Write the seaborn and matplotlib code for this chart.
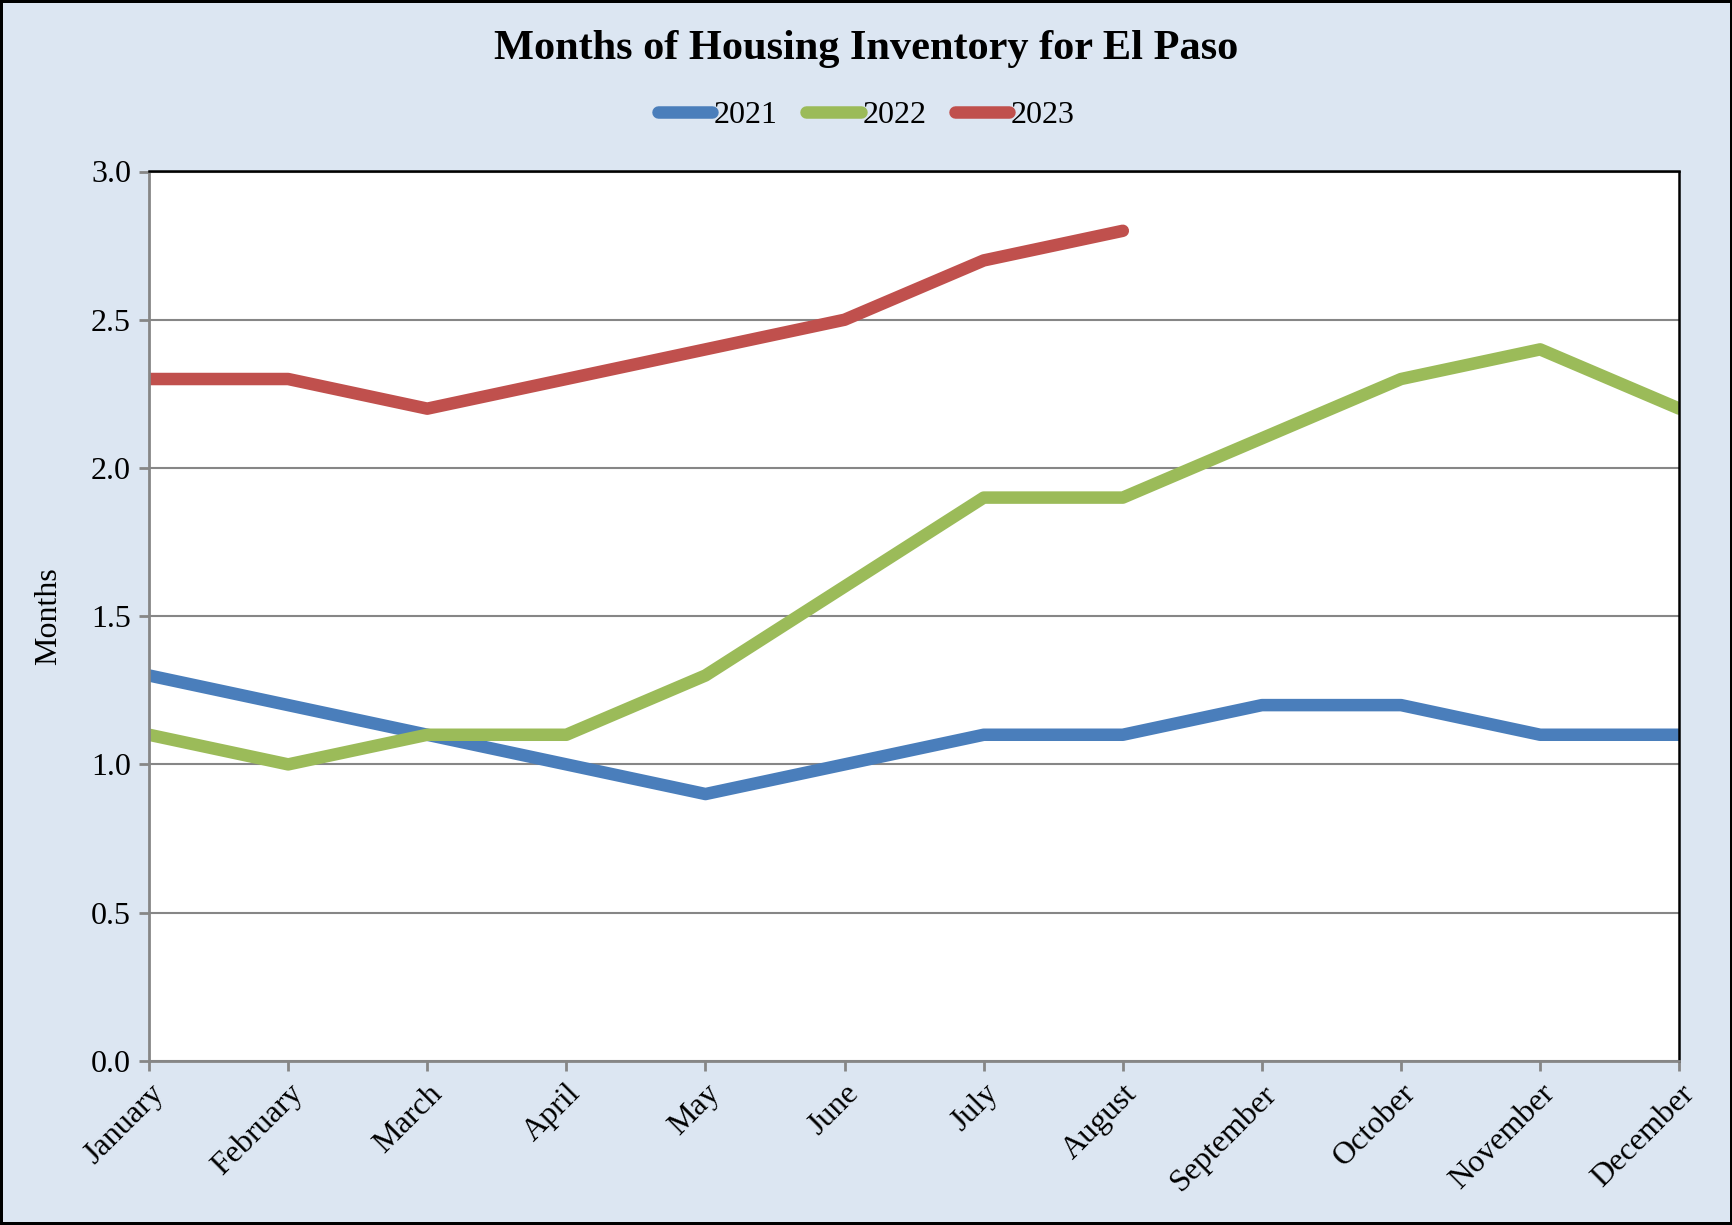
import numpy as np
import pandas as pd
import matplotlib
matplotlib.use("Agg")
import matplotlib.pyplot as plt
import seaborn as sns

months = ["January", "February", "March", "April", "May", "June", "July",
          "August", "September", "October", "November", "December"]
y2021 = [1.3, 1.2, 1.1, 1.0, 0.9, 1.0, 1.1, 1.1, 1.2, 1.2, 1.1, 1.1]
y2022 = [1.1, 1.0, 1.1, 1.1, 1.3, 1.6, 1.9, 1.9, 2.1, 2.3, 2.4, 2.2]
y2023 = [2.3, 2.3, 2.2, 2.3, 2.4, 2.5, 2.7, 2.8]
years = ["2021", "2022", "2023"]
colors = ["#4A7EBB", "#9BBB59", "#C0504D"]

rows = []
for yr, vals in zip(years, [y2021, y2022, y2023]):
    for i, v in enumerate(vals):
        rows.append({"month": i, "value": v, "year": yr})
df = pd.DataFrame(rows)

sns.set_style("white")
plt.rcParams["font.family"] = ["Liberation Serif", "DejaVu Serif"]
plt.rcParams["text.color"] = "black"
plt.rcParams["xtick.labelcolor"] = "black"
plt.rcParams["ytick.labelcolor"] = "black"
plt.rcParams["axes.labelcolor"] = "black"

fig = plt.figure(figsize=(17.33, 12.25), dpi=100)
fig.patch.set_facecolor("#DCE6F2")
fig.patch.set_edgecolor("black")
fig.patch.set_linewidth(3)
ax = fig.add_axes([0.086, 0.134, 0.883, 0.726])
ax.set_facecolor("white")

lw = 9
sns.lineplot(data=df, x="month", y="value", hue="year", palette=colors,
             linewidth=lw, ax=ax, legend=False, solid_capstyle="round")

ax.set_xlim(0, 11)
ax.set_ylim(0, 3.0)
ax.set_yticks(np.arange(0, 3.01, 0.5))
ax.set_yticklabels([f"{t:.1f}" for t in np.arange(0, 3.01, 0.5)], fontsize=23)
ax.set_xticks(range(12))
ax.set_xticklabels(months, rotation=45, ha="right", rotation_mode="anchor", fontsize=23)
ax.yaxis.grid(True, color="#868686", linewidth=1.5)
ax.set_axisbelow(True)
ax.set_xlabel("")
ax.set_ylabel("Months", fontsize=23, labelpad=20)

for s in ["left", "bottom"]:
    ax.spines[s].set_color("#868686")
    ax.spines[s].set_linewidth(2)
for s in ["top", "right"]:
    ax.spines[s].set_color("black")
    ax.spines[s].set_linewidth(1.8)
ax.tick_params(axis="both", which="both", direction="out", length=7, width=2,
               color="#868686", left=True, bottom=True, pad=6)

fig.text(0.5, 0.960, "Months of Housing Inventory for El Paso", ha="center",
         va="center", fontsize=30.5, fontweight="bold")

handles = [plt.Line2D([], [], color=c, linewidth=lw, solid_capstyle="round") for c in colors]
fig.legend(handles, years, loc="center", bbox_to_anchor=(0.5, 0.906), ncol=3,
           frameon=False, fontsize=23, handlelength=1.7, handletextpad=0.05,
           columnspacing=0.9)

fig.savefig("out.png", dpi=100, facecolor=fig.get_facecolor(), edgecolor="black")
